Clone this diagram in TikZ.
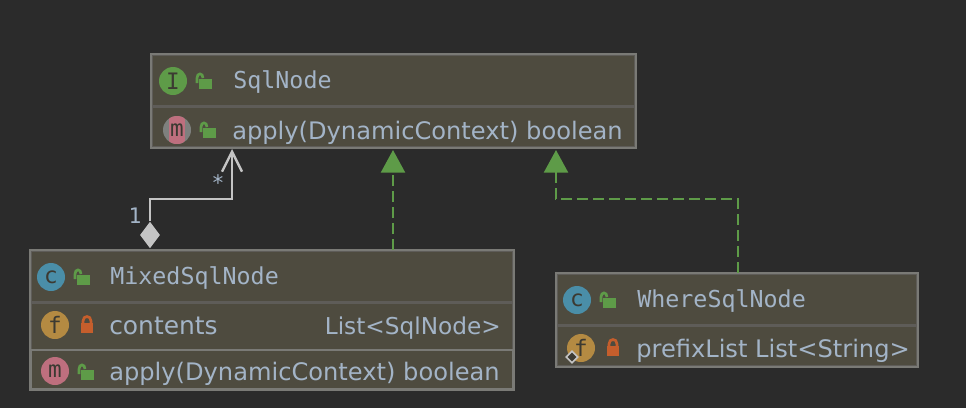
\documentclass[tikz,border=0pt]{standalone}
\usepackage{fontspec}
\setmainfont{DejaVu Sans}
\newfontfamily\titlefont{DejaVu Sans Mono}
\usetikzlibrary{arrows.meta,shapes.geometric}
\definecolor{bgcol}{HTML}{2B2B2B}
\definecolor{boxcol}{HTML}{4E4B3F}
\definecolor{framecol}{HTML}{7A7A76}
\definecolor{rulecol}{HTML}{5E5C58}
\definecolor{textcol}{HTML}{A3B4C7}
\definecolor{linecol}{HTML}{C4C4C4}
\definecolor{greencol}{HTML}{5E9B48}
\definecolor{pinkcol}{HTML}{BE6F7E}
\definecolor{tealcol}{HTML}{4A8EA8}
\definecolor{ochrecol}{HTML}{B48A42}
\definecolor{redcol}{HTML}{C55E2C}
\definecolor{inkcol}{HTML}{3C3A32}
\tikzset{
  rowbox/.style={rectangle, fill=boxcol, draw=rulecol, line width=1.5pt, anchor=north west, inner sep=0pt},
  frame/.style={draw=framecol, line width=1.5pt},
  titletext/.style={text=textcol, anchor=base west, inner sep=0pt, font=\titlefont\fontsize{17.5}{20}\selectfont},
  membertext/.style={text=textcol, anchor=base west, inner sep=0pt, font=\fontsize{18.1}{20}\selectfont},
  icon/.style={circle, minimum size=21pt, inner sep=0pt, text=inkcol, font=\titlefont\fontsize{17}{18}\selectfont},
  impl/.style={draw=greencol, line width=1.8pt, dash pattern=on 8pt off 4pt, -{Triangle[length=17pt,width=18pt,fill=greencol]}},
  assoc/.style={draw=linecol, line width=1.8pt, -{Straight Barb[length=15pt,width=15pt]}},
  openlock/.pic={
    \fill[greencol] (-6.5,-5) rectangle (6.5,5);
    \draw[greencol, line width=2pt] (-8,-1) -- (-8,-6) .. controls (-8,-11.5) and (-2,-11.5) .. (-2,-6);
  },
  shutlock/.pic={
    \fill[redcol] (-6,-5) rectangle (6,5);
    \draw[redcol, line width=2pt] (-4,-5) -- (-4,-7) .. controls (-4,-13) and (4,-13) .. (4,-7) -- (4,-5);
  },
}
\begin{document}
\begin{tikzpicture}[x=0.75pt, y=-0.75pt]
  \useasboundingbox[fill=bgcol] (0,0) rectangle (966,408);

  \node[rowbox, minimum width=362.25pt, minimum height=38pt] (sqltitle) at (151,54) {};
  \node[rowbox, minimum width=362.25pt, minimum height=30pt] (sqlbody) at (151,106) {};
  \draw[frame] (sqltitle.north west) rectangle (sqlbody.south east);

  \node[rowbox, minimum width=361.5pt, minimum height=38pt] (mixedtitle) at (30,250) {};
  \node[rowbox, minimum width=361.5pt, minimum height=35.25pt] (mixedfield) at (30,302) {};
  \node[rowbox, draw=framecol, minimum width=361.5pt, minimum height=29.25pt] (mixedbody) at (30,349) {};
  \draw[frame] (mixedtitle.north west) rectangle (mixedbody.south east);

  \node[rowbox, minimum width=270pt, minimum height=38pt] (wheretitle) at (556,273) {};
  \node[rowbox, minimum width=270pt, minimum height=30pt] (wherefield) at (556,325) {};
  \draw[frame] (wheretitle.north west) rectangle (wherefield.south east);

  \node[icon, fill=greencol] (sqlicon) at (173,81) {I};
  \pic at (205,84) {openlock};
  \node[titletext] (sqlname) at (233,88) {SqlNode};
  \node[icon, fill=framecol!90!textcol] (applyback) at (177,130) {};
  \begin{scope}
    \clip (177,130) circle (14);
    \fill[pinkcol] (169,116) rectangle (185,144);
  \end{scope}
  \node[icon] (applyicon) at (177,130) {m};
  \pic at (209,133) {openlock};
  \node[membertext] (sqlapply) at (232,139) {apply(DynamicContext) boolean};

  \node[icon, fill=tealcol] (mixedicon) at (51,277) {c};
  \pic at (83,280) {openlock};
  \node[titletext] (mixedname) at (110,284) {MixedSqlNode};
  \node[icon, fill=ochrecol] (contentsicon) at (55,325) {f};
  \pic at (87,328) {shutlock};
  \node[membertext, font=\fontsize{18.7}{20}\selectfont] (contents) at (109,334) {contents};
  \node[membertext, anchor=base east, font=\fontsize{17.4}{20}\selectfont] (contentstype) at (501,334) {List<SqlNode>};
  \node[icon, fill=pinkcol] (mixedapplyicon) at (55,371) {m};
  \pic at (87,375) {openlock};
  \node[membertext] (mixedapply) at (109,380) {apply(DynamicContext) boolean};

  \node[icon, fill=tealcol] (whereicon) at (577,300) {c};
  \pic at (609,303) {openlock};
  \node[titletext] (wherename) at (637,307) {WhereSqlNode};
  \node[icon, fill=ochrecol] (prefixicon) at (581,348) {f};
  \node[diamond, draw=linecol, fill=inkcol, line width=1.2pt, minimum size=9pt, inner sep=0pt] (prefixmark) at (572,357) {};
  \pic at (613,351) {shutlock};
  \node[membertext] (prefixlist) at (636,357) {prefixList List<String>};

  \coordinate (mixedtop) at (393,250);
  \coordinate (sqlmid) at (393,150);
  \draw[impl] (mixedtop) -- (sqlmid);

  \coordinate (wheretop) at (738,273);
  \coordinate (wherebend) at (738,199);
  \coordinate (sqlright) at (556,150);
  \draw[impl] (wheretop) -- (wherebend) -| (sqlright);

  \node[diamond, fill=linecol, minimum width=15pt, minimum height=20pt, inner sep=0pt] (aggmark) at (150,235) {};
  \coordinate (assocbend) at (232,199);
  \coordinate (sqlleft) at (232,149);
  \draw[assoc] (aggmark.north) |- (assocbend) -- (sqlleft);
  \node[text=textcol, inner sep=0pt, font=\titlefont\fontsize{16}{18}\selectfont] (onelabel) at (135,216) {1};
  \node[text=textcol, inner sep=0pt, font=\titlefont\fontsize{16}{18}\selectfont] (manylabel) at (218,183) {*};
\end{tikzpicture}
\end{document}
